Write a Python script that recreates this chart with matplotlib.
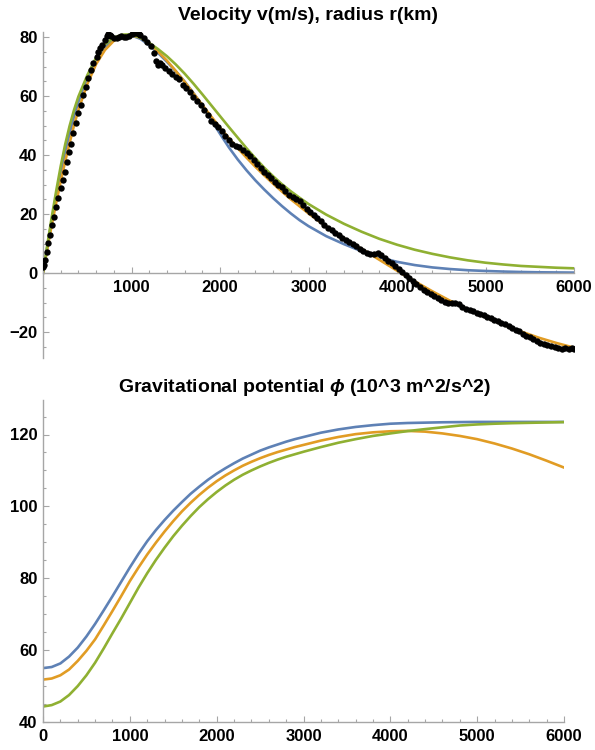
import matplotlib
matplotlib.use("Agg")
import matplotlib.pyplot as plt
from matplotlib.ticker import MultipleLocator, FixedLocator

plt.rcParams['font.family'] = ['Liberation Sans', 'DejaVu Sans']
plt.rcParams['mathtext.fontset'] = 'custom'
plt.rcParams['mathtext.it'] = 'Liberation Sans:italic:bold'
plt.rcParams['mathtext.rm'] = 'Liberation Sans:bold'

# ---------------- data: top panel (velocity) ----------------
top_x = [0, 50, 100, 150, 200, 250, 300, 350, 400, 500, 600, 700, 800, 900,
         1000, 1100, 1200, 1300, 1400, 1500, 1600, 1700, 1800, 1900, 2000,
         2100, 2200, 2300, 2400, 2500, 2600, 2700, 2800, 2900, 3000,
         3200, 3400, 3600, 3800, 4000, 4200, 4400, 4600, 4800, 5000, 5200,
         5400, 5600, 5800, 6000]
v_blue = [0, 9.2, 18.0, 26.3, 34.0, 41.0, 47.3, 53.0, 58.0, 66.2, 72.3, 76.6,
          79.4, 80.6, 80.5, 79.4, 77.2, 74.6, 71.6, 68.4, 64.9, 61.0, 56.7,
          52.0, 47.2, 42.6, 38.5, 34.8, 31.4, 28.3, 25.4, 22.7, 20.2, 17.9,
          15.9, 12.5, 9.8, 7.4, 5.3, 3.8, 2.7, 1.9, 1.35, 0.95, 0.7, 0.5,
          0.35, 0.25, 0.2, 0.15]
v_orange = [0, 8.4, 16.5, 24.0, 31.0, 37.8, 44.0, 50.0, 55.3, 64.0, 70.8, 75.6,
            78.7, 80.3, 80.6, 79.8, 77.8, 75.1, 72.0, 68.5, 64.8, 60.9, 57.0,
            53.1, 49.3, 45.7, 42.3, 39.1, 36.0, 33.1, 30.3, 27.6, 25.0, 22.6,
            20.2, 15.8, 11.8, 8.2, 4.5, 0.8, -2.8, -6.2, -9.4, -12.3, -15.0,
            -17.5, -19.8, -21.9, -23.7, -25.3]
v_green = [0, 9.8, 19.2, 28.0, 36.2, 43.5, 49.8, 55.2, 59.8, 67.0, 73.0, 77.5,
           79.8, 80.8, 80.9, 79.8, 78.0, 75.9, 73.5, 70.7, 67.6, 64.2, 60.6,
           56.9, 53.2, 49.5, 45.9, 42.3, 38.9, 35.7, 32.8, 30.1, 27.7, 25.5,
           23.4, 19.8, 16.7, 14.0, 11.6, 9.6, 7.9, 6.5, 5.3, 4.3, 3.5, 2.9,
           2.4, 2.1, 1.8, 1.6]

obs_r = [4, 11, 23, 41, 60, 79, 98, 124, 147, 173, 199, 222, 248, 267, 293,
         316, 342, 372, 398, 425, 455, 485, 511, 538, 567, 605, 625, 643, 665,
         699, 720, 737, 760, 774, 800, 831, 860, 887, 915, 943, 970, 1000,
         1030, 1056, 1080,
         1100, 1140, 1180, 1220, 1250, 1280, 1300, 1320, 1350, 1380, 1420,
         1460, 1500, 1540, 1580, 1620, 1660, 1700, 1740, 1780, 1820, 1860,
         1900, 1940, 1980, 2020, 2060, 2100, 2140, 2180, 2220, 2260, 2300,
         2340, 2380, 2420, 2460, 2500, 2540, 2580, 2620, 2660, 2700, 2740,
         2780, 2820, 2860, 2900, 2940, 2980, 3020, 3060, 3100, 3140, 3180,
         3220, 3260, 3300, 3340, 3380, 3420, 3460, 3500, 3540, 3580, 3620,
         3660, 3700, 3740, 3780, 3820, 3860, 3900, 3940, 3980, 4020, 4060,
         4100, 4140, 4180, 4220, 4260, 4300, 4340, 4380, 4420, 4460, 4500,
         4540, 4580, 4620, 4660, 4700, 4740, 4780, 4820, 4860, 4900, 4940,
         4980, 5020, 5060, 5100, 5140, 5180, 5220, 5260, 5300, 5340, 5380,
         5420, 5460, 5500, 5540, 5580, 5620, 5660, 5700, 5740, 5780, 5820,
         5860, 5900, 5940, 5980, 6000]
obs_v = [2.0, 2.7, 4.4, 7.2, 10.1, 12.9, 16.3, 19.1, 22.5, 25.3, 28.7, 31.5,
         34.3, 37.7, 41.1, 43.9, 47.4, 50.7, 54.1, 57.0, 60.3, 63.1, 66.0,
         68.8, 71.1, 73.3, 74.8, 76.2, 77.4, 79.0, 80.3, 80.9, 80.6, 80.2,
         79.8, 79.7, 80.1, 80.2, 80.0, 80.0, 80.5, 80.9, 81.2, 81.3, 81.0,
         80.8, 79.6, 78.2, 77.0, 74.5, 71.8, 70.6, 71.2, 70.4, 69.5, 68.6,
         67.4, 66.5, 65.6, 63.8, 62.6, 61.2, 59.6, 58.2, 56.8, 55.2, 53.4,
         51.6, 50.4, 49.6, 48.2, 46.6, 45.2, 43.6, 42.9, 42.6, 41.6, 40.6,
         39.6, 38.4, 36.9, 35.6, 34.4, 33.2, 32.2, 31.0, 30.0, 29.2, 27.8,
         26.6, 25.9, 25.2, 24.4, 23.0, 21.8, 20.6, 19.6, 18.6, 17.6, 16.4,
         15.4, 14.6, 13.6, 12.8, 12.0, 11.2, 10.4, 9.9, 9.0, 8.2, 7.4,
         6.8, 6.5, 6.6, 6.7, 6.2, 5.0, 4.2, 3.4, 2.4, 1.4, 0.3,
         -0.7, -1.8, -2.8, -3.8, -4.7, -5.6, -6.5, -7.2, -7.9, -8.6, -9.3,
         -9.8, -10.2, -10.1, -10.0, -10.6, -11.5, -12.1, -12.5, -13.0, -13.5,
         -13.9, -14.3, -14.8, -15.3, -15.8, -16.2, -16.8, -17.3, -17.9, -18.6,
         -19.2, -19.8, -20.5, -21.2, -21.8, -22.3, -22.9, -23.6, -24.0, -24.4,
         -24.8, -25.0, -25.3, -25.6, -25.4, -25.7, -25.3, -25.6]

# ---------------- data: bottom panel (potential) ----------------
bot_x = [0, 100, 200, 300, 400, 500, 600, 700, 800, 900, 1000,
         1100, 1200, 1300, 1400, 1500, 1600, 1700, 1800, 1900, 2000,
         2100, 2200, 2300, 2400, 2500, 2600, 2700, 2800, 2900, 3000,
         3200, 3400, 3600, 3800, 4000, 4200, 4400, 4600, 4800, 5000,
         5200, 5400, 5600, 5800, 6000]
phi_blue = [55.0, 55.3, 56.3, 58.2, 60.7, 63.8, 67.3, 71.1, 75.0, 79.0, 83.0,
            86.8, 90.3, 93.4, 96.2, 98.8, 101.2, 103.5, 105.5, 107.4, 109.1,
            110.6, 112.0, 113.3, 114.4, 115.5, 116.4, 117.2, 118.0, 118.7, 119.3,
            120.5, 121.4, 122.1, 122.6, 123.0, 123.2, 123.3, 123.4, 123.45,
            123.5, 123.5, 123.5, 123.5, 123.5, 123.5]
phi_orange = [51.8, 52.1, 53.0, 54.6, 57.0, 59.8, 63.0, 66.9, 70.9, 75.0, 79.2,
              83.0, 86.6, 89.9, 93.0, 95.9, 98.6, 101.0, 103.2, 105.2, 107.0,
              108.6, 110.0, 111.3, 112.4, 113.4, 114.3, 115.1, 115.8, 116.5, 117.1,
              118.3, 119.3, 120.1, 120.6, 120.9, 121.0, 120.8, 120.3, 119.6,
              118.7, 117.5, 116.1, 114.5, 112.7, 110.8]
phi_green = [44.3, 44.7, 45.7, 47.5, 50.0, 53.0, 56.5, 60.5, 64.7, 68.8, 73.1,
             77.4, 81.4, 85.1, 88.5, 91.7, 94.6, 97.3, 99.8, 102.0, 104.0,
             105.8, 107.4, 108.8, 110.0, 111.1, 112.1, 113.0, 113.8, 114.5, 115.2,
             116.5, 117.7, 118.7, 119.6, 120.3, 120.95, 121.5, 122.0, 122.5,
             122.8, 123.0, 123.15, 123.25, 123.35, 123.45]

top_title = "Velocity v(m/s), radius r(km)"
bot_title = r"Gravitational potential $\phi$ (10^3 m^2/s^2)"
top_xticks = [1000, 2000, 3000, 4000, 5000, 6000]
top_yticks = [-20, 0, 20, 40, 60, 80]
bot_xticks = [0, 1000, 2000, 3000, 4000, 5000, 6000]
bot_yticks = [40, 60, 80, 100, 120]

C_BLUE = '#5E81B5'
C_ORANGE = '#E19C24'
C_GREEN = '#8FB032'
AX_COL = '#a6a6a6'

W, H = 595, 750
fig = plt.figure(figsize=(W / 100, H / 100), dpi=100)


def px_rect(x0, x1, ytop, ybot):
    return [x0 / W, 1 - ybot / H, (x1 - x0) / W, (ybot - ytop) / H]


def style(ax):
    for s in ['top', 'right']:
        ax.spines[s].set_visible(False)
    for s in ['left', 'bottom']:
        ax.spines[s].set_color(AX_COL)
        ax.spines[s].set_linewidth(1.0)
    ax.tick_params(which='both', direction='in', color=AX_COL, width=0.8,
                   labelsize=12, labelcolor='black')
    ax.tick_params(which='major', length=4)
    ax.tick_params(which='minor', length=2.2)
    ax.tick_params(axis='x', pad=5)
    ax.tick_params(axis='y', pad=4)
    for lab in ax.get_xticklabels() + ax.get_yticklabels():
        lab.set_fontweight('bold')
    ax.patch.set_alpha(0)


# top panel
ax1 = fig.add_axes(px_rect(43, 574, 31.7, 358))
ax1.plot(top_x, v_blue, color=C_BLUE, lw=1.9)
ax1.plot(top_x, v_orange, color=C_ORANGE, lw=1.9)
ax1.plot(top_x, v_green, color=C_GREEN, lw=1.9)
ax1.plot(obs_r, obs_v, 'o', color='black', ms=4.6, mew=0, zorder=3)
ax1.set_xlim(0, 6000)
ax1.set_ylim(-28.8, 81.8)
ax1.spines['bottom'].set_position(('data', 0))
ax1.xaxis.set_major_locator(FixedLocator(top_xticks))
ax1.yaxis.set_major_locator(FixedLocator(top_yticks))
ax1.xaxis.set_minor_locator(MultipleLocator(200))
ax1.yaxis.set_minor_locator(MultipleLocator(5))
style(ax1)
fig.text(308 / W, 1 - 16 / H, top_title, ha='center', va='center',
         fontsize=14, fontweight='bold')

# bottom panel
ax2 = fig.add_axes(px_rect(43, 564, 400, 722))
ax2.plot(bot_x, phi_blue, color=C_BLUE, lw=1.9)
ax2.plot(bot_x, phi_orange, color=C_ORANGE, lw=1.9)
ax2.plot(bot_x, phi_green, color=C_GREEN, lw=1.9)
ax2.set_xlim(0, 6000)
ax2.set_ylim(40, 129.6)
ax2.xaxis.set_major_locator(FixedLocator(bot_xticks))
ax2.yaxis.set_major_locator(FixedLocator(bot_yticks))
ax2.xaxis.set_minor_locator(MultipleLocator(200))
ax2.yaxis.set_minor_locator(MultipleLocator(5))
style(ax2)
fig.text(304 / W, 1 - 388 / H, bot_title, ha='center', va='center',
         fontsize=14, fontweight='bold')

fig.savefig('out.png', dpi=100)
